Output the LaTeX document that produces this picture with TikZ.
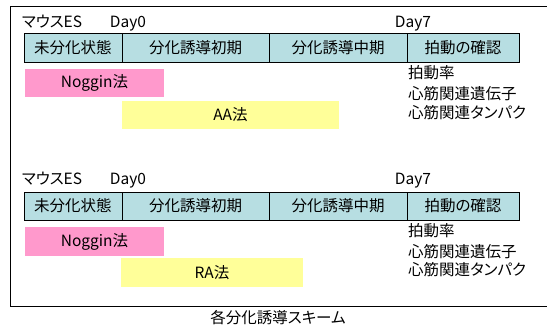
\documentclass[tikz,border=0pt]{standalone}
\usepackage{fontspec}
\setmainfont[RawFeature=+palt]{Noto Sans CJK JP}
\definecolor{cellblue}{HTML}{B7DEE2}
\definecolor{npink}{HTML}{FF99CC}
\definecolor{ayellow}{HTML}{FFFF99}
\begin{document}
\begin{tikzpicture}[x=1pt,y=-1pt,
  cell/.style={draw=black,fill=cellblue,line width=0.9pt,inner sep=0pt,font=\fontsize{15.5}{17}\selectfont},
  bar/.style={draw=none,inner sep=0pt,font=\fontsize{15.5}{17}\selectfont},
  lbl/.style={inner sep=0pt,font=\fontsize{15.5}{17}\selectfont},
  rlbl/.style={inner sep=0pt,anchor=west,font=\fontsize{15.5}{17}\selectfont}]
\useasboundingbox (0,0) rectangle (547,325);
% frame (right edge off picture)
\draw[line width=0.9pt] (551,6) -- (10,6) -- (10,306) -- (551,306);
% ---------- panel 1 ----------
\node[lbl] (es1) at (52,22) {マウスES};
\node[lbl] (d01) at (128,24) {Day0};
\node[lbl] (d71) at (413,24) {Day7};
\node[cell,minimum width=98,minimum height=29] (c11) at (73,47.5) {未分化状態};
\node[cell,minimum width=147,minimum height=29] (c12) at (195.5,47.5) {分化誘導初期};
\node[cell,minimum width=138,minimum height=29] (c13) at (338,47.5) {分化誘導中期};
\node[cell,minimum width=112,minimum height=29] (c14) at (463,47.5) {拍動の確認};
\node[bar,fill=npink,minimum width=139,minimum height=28] (n1) at (94.5,83) {Noggin法};
\node[bar,fill=ayellow,minimum width=217,minimum height=28] (a1) at (230.5,115) {AA法};
\node[rlbl] (r11) at (408,73) {拍動率};
\node[rlbl] (r12) at (408,94) {心筋関連遺伝子};
\node[rlbl] (r13) at (408,113) {心筋関連タンパク};
% ---------- panel 2 ----------
\node[lbl] (es2) at (52,179) {マウスES};
\node[lbl] (d02) at (128,181) {Day0};
\node[lbl] (d72) at (413,181) {Day7};
\node[cell,minimum width=98,minimum height=28] (c21) at (73,206) {未分化状態};
\node[cell,minimum width=147,minimum height=28] (c22) at (195.5,206) {分化誘導初期};
\node[cell,minimum width=138,minimum height=28] (c23) at (338,206) {分化誘導中期};
\node[cell,minimum width=112,minimum height=28] (c24) at (463,206) {拍動の確認};
\node[bar,fill=npink,minimum width=139,minimum height=29] (n2) at (94.5,241.5) {Noggin法};
\node[bar,fill=ayellow,minimum width=182,minimum height=29] (a2) at (212,272.5) {RA法};
\node[rlbl] (r21) at (408,231) {拍動率};
\node[rlbl] (r22) at (408,252) {心筋関連遺伝子};
\node[rlbl] (r23) at (408,270) {心筋関連タンパク};
% caption
\node[lbl] (cap) at (278,318) {各分化誘導スキーム};
\end{tikzpicture}
\end{document}
